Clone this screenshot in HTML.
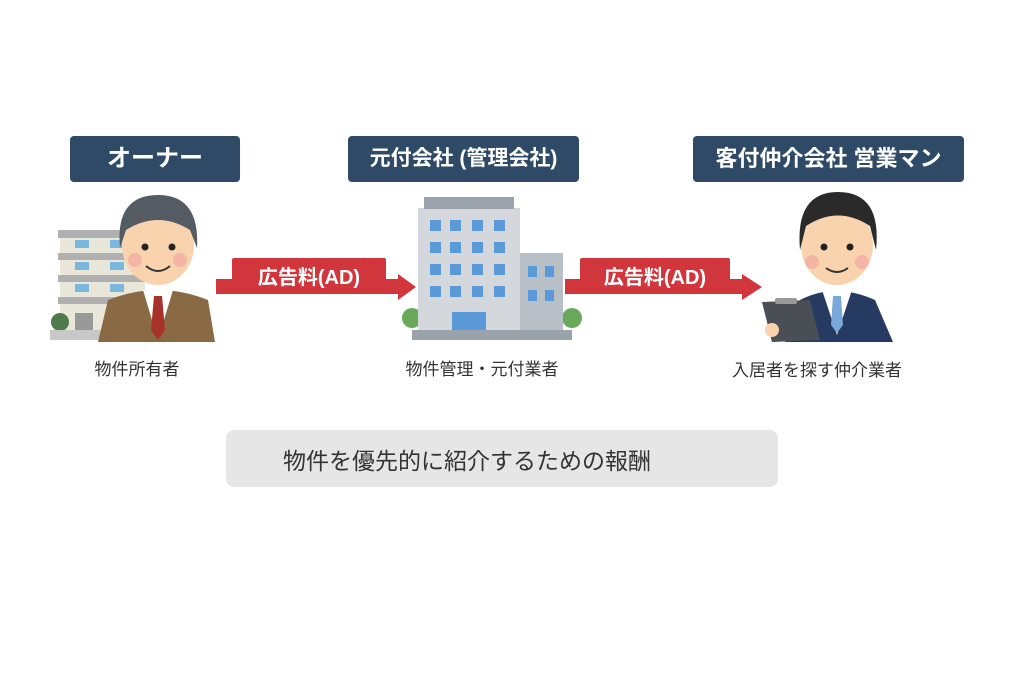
<!DOCTYPE html>
<html><head><meta charset="utf-8"><style>
body{margin:0;width:1024px;height:683px;background:#fff;position:relative;overflow:hidden;font-family:"Liberation Sans","Noto Sans CJK JP",sans-serif}
.h{position:absolute;top:136px;height:46px;background:#2e4a66;color:#fff;border-radius:4px;font-weight:bold;font-size:22px;line-height:46px;text-align:center;white-space:nowrap}
.l{position:absolute;font-size:17px;color:#333;text-align:center;width:240px}
</style></head><body>
<div class="h" style="left:70px;width:170px;font-size:24px">オーナー</div>
<div class="h" style="left:348px;width:231px;font-size:21px">元付会社 (管理会社)</div>
<div class="h" style="left:693px;width:271px">客付仲介会社 営業マン</div>
<svg width="1024" height="683" style="position:absolute;left:0;top:0">
<rect x="60" y="232" width="85" height="100" fill="#e9e6da"/>
<g fill="#b0b0b0"><rect x="58" y="230" width="90" height="8"/><rect x="58" y="253" width="90" height="7"/><rect x="58" y="275" width="90" height="7"/><rect x="58" y="297" width="90" height="7"/></g>
<g fill="#7ab8e0"><rect x="75" y="240" width="14" height="8"/><rect x="110" y="240" width="14" height="8"/><rect x="75" y="262" width="14" height="8"/><rect x="110" y="262" width="14" height="8"/><rect x="75" y="284" width="14" height="8"/><rect x="110" y="284" width="14" height="8"/></g>
<rect x="75" y="313" width="18" height="18" fill="#999"/>
<circle cx="60" cy="322" r="9" fill="#4f7a4a"/>
<rect x="50" y="330" width="100" height="10" fill="#c8c8c8"/>
<path d="M98 342 L108 300 Q158 280 208 300 L215 342Z" fill="#8a6a44"/>
<path d="M143 290 L158 340 L173 290Z" fill="#fff"/>
<path d="M154 296 L162 296 L165 330 L158 340 L151 330Z" fill="#a8322a"/>
<ellipse cx="158" cy="245" rx="36" ry="40" fill="#f8d3ae"/>
<path d="M120 248 Q115 195 158 195 Q200 195 197 248 L190 230 Q158 210 126 230Z" fill="#555b62"/>
<circle cx="145" cy="247" r="3.5" fill="#222"/><circle cx="172" cy="247" r="3.5" fill="#222"/>
<circle cx="135" cy="260" r="7" fill="#f2a8a0" opacity=".7"/><circle cx="180" cy="260" r="7" fill="#f2a8a0" opacity=".7"/>
<path d="M146 266 Q158 276 170 266" stroke="#333" stroke-width="2" fill="none"/>
<rect x="216" y="279" width="185" height="15" fill="#d0363b"/>
<path d="M398 274 L416 287 L398 300Z" fill="#d0363b"/>
<rect x="232" y="258" width="154" height="35" fill="#d0363b" rx="2"/>
<text x="309" y="284" fill="#fff" font-size="20" font-weight="bold" text-anchor="middle">広告料(AD)</text>
<circle cx="412" cy="318" r="10" fill="#6aa85a"/><circle cx="572" cy="318" r="10" fill="#6aa85a"/>
<rect x="418" y="208" width="102" height="125" fill="#d4d8dd"/>
<rect x="424" y="197" width="90" height="12" fill="#9aa3ab"/>
<rect x="520" y="253" width="43" height="78" fill="#b8bfc6"/>
<g fill="#5a9ad8">
<rect x="430" y="220" width="11" height="11"/><rect x="450" y="220" width="11" height="11"/><rect x="472" y="220" width="11" height="11"/><rect x="494" y="220" width="11" height="11"/>
<rect x="430" y="242" width="11" height="11"/><rect x="450" y="242" width="11" height="11"/><rect x="472" y="242" width="11" height="11"/><rect x="494" y="242" width="11" height="11"/>
<rect x="430" y="264" width="11" height="11"/><rect x="450" y="264" width="11" height="11"/><rect x="472" y="264" width="11" height="11"/><rect x="494" y="264" width="11" height="11"/>
<rect x="430" y="286" width="11" height="11"/><rect x="450" y="286" width="11" height="11"/><rect x="472" y="286" width="11" height="11"/><rect x="494" y="286" width="11" height="11"/>
<rect x="528" y="266" width="9" height="11"/><rect x="545" y="266" width="9" height="11"/><rect x="528" y="290" width="9" height="11"/><rect x="545" y="290" width="9" height="11"/>
<rect x="452" y="312" width="34" height="20"/></g>
<rect x="412" y="330" width="160" height="10" fill="#9aa3ab"/>
<rect x="565" y="279" width="180" height="15" fill="#d0363b"/>
<path d="M742 274 L762 287 L742 300Z" fill="#d0363b"/>
<rect x="580" y="258" width="150" height="35" fill="#d0363b" rx="2"/>
<text x="655" y="284" fill="#fff" font-size="20" font-weight="bold" text-anchor="middle">広告料(AD)</text>
<path d="M785 342 L800 300 Q835 282 875 300 L893 342Z" fill="#273a62"/>
<path d="M822 290 L837 335 L852 290Z" fill="#fff"/>
<path d="M833 296 L841 296 L843 325 L837 333 L831 325Z" fill="#7aa8d8"/>
<ellipse cx="837" cy="245" rx="36" ry="40" fill="#f8d3ae"/>
<path d="M800 250 Q795 192 838 192 Q882 192 876 250 L870 226 Q838 205 806 226Z" fill="#2a2a2a"/>
<circle cx="824" cy="247" r="3.5" fill="#222"/><circle cx="850" cy="247" r="3.5" fill="#222"/>
<circle cx="812" cy="262" r="7" fill="#f2a8a0" opacity=".7"/><circle cx="862" cy="262" r="7" fill="#f2a8a0" opacity=".7"/>
<path d="M826 268 Q837 276 848 268" stroke="#333" stroke-width="2" fill="none"/>
<path d="M762 302 L810 300 L820 340 L772 342Z" fill="#4a4e55"/>
<rect x="775" y="298" width="22" height="6" fill="#999" rx="2"/>
<circle cx="772" cy="330" r="7" fill="#f8d3ae"/>
</svg>
<div class="l" style="left:17px;top:355px">物件所有者</div>
<div class="l" style="left:362px;top:355px">物件管理・元付業者</div>
<div class="l" style="left:697px;top:356px">入居者を探す仲介業者</div>
<div style="position:absolute;left:226px;top:430px;width:552px;height:57px;background:#e6e6e6;border-radius:8px"></div>
<div style="position:absolute;left:283px;top:442px;font-size:23px;color:#333">物件を優先的に紹介するための報酬</div>
</body></html>
